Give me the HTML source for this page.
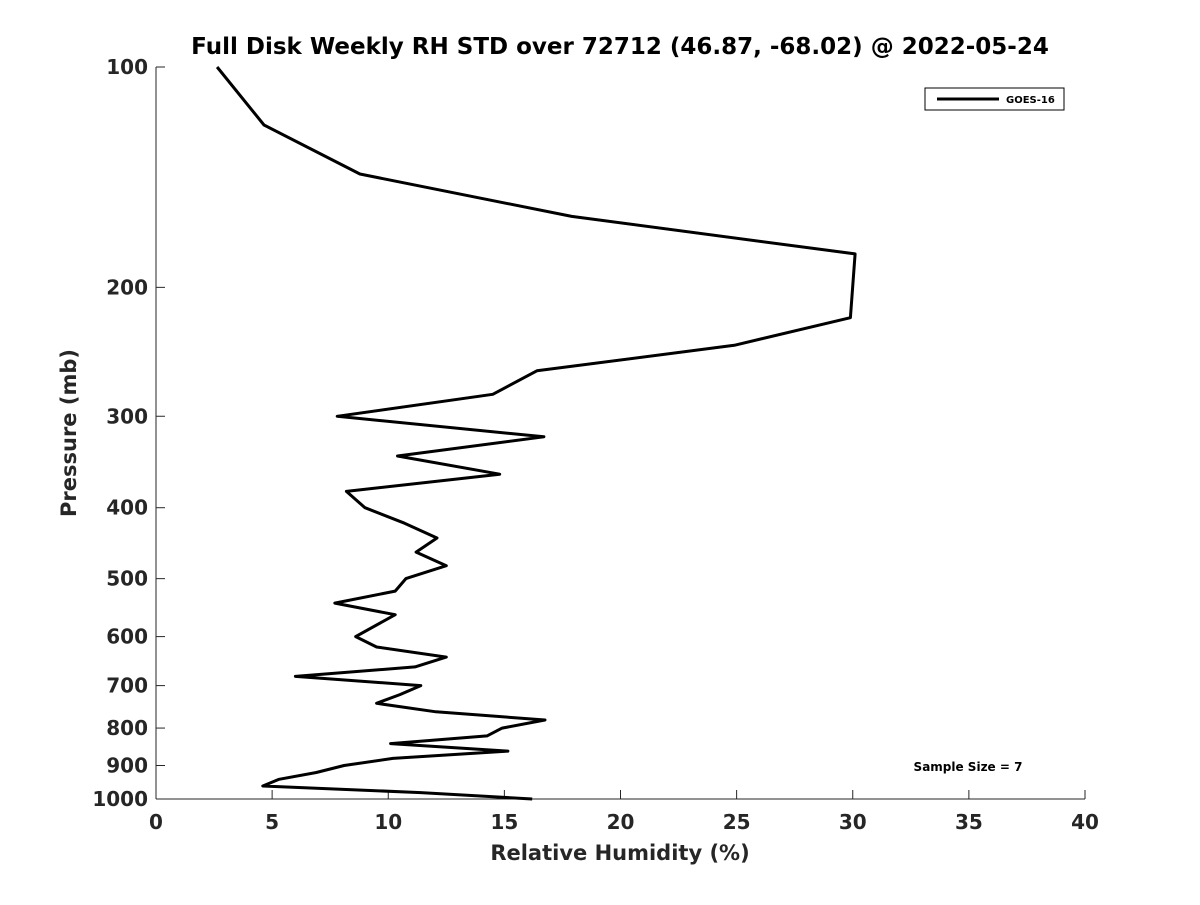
<!DOCTYPE html>
<html><head><meta charset="utf-8"><style>
body{margin:0;background:#fff;}
svg text{font-family:"DejaVu Sans","Liberation Sans",sans-serif;font-weight:bold;fill:#262626;}
</style></head><body>
<svg id="chart" width="1200" height="900" viewBox="0 0 1200 900" xmlns="http://www.w3.org/2000/svg">
<rect width="1200" height="900" fill="#fff"/>
<text x="620" y="54" font-size="23" text-anchor="middle" style="fill:#000">Full Disk Weekly RH STD over 72712 (46.87, -68.02) @ 2022-05-24</text>
<g id="axes"></g>
<path id="series" fill="none" stroke="#000" stroke-width="3" stroke-linejoin="round"/>
<text x="620" y="860" font-size="21" text-anchor="middle">Relative Humidity (%)</text>
<text transform="translate(76,433) rotate(-90)" font-size="21" text-anchor="middle">Pressure (mb)</text>
<g>
<rect x="925" y="88" width="139" height="22" fill="#fff" stroke="#000" stroke-width="1"/>
<line x1="937" y1="99" x2="999" y2="99" stroke="#000" stroke-width="3"/>
<text x="1006" y="103" font-size="10" style="fill:#000">GOES-16</text>
</g>
<text x="968" y="771" font-size="12" text-anchor="middle" style="fill:#000">Sample Size = 7</text>
</svg>
<script>
const pressures=[100,120,140,160,180,220,240,260,280,300,320,340,360,380,400,420,440,460,480,500,520,540,560,600,620,640,660,680,700,720,740,760,780,800,820,840,860,880,900,920,940,960,980,1000];
const rhStd=[2.63,4.65,8.78,17.9,30.1,29.9,24.9,16.4,14.5,7.8,16.7,10.4,14.8,8.2,9.0,10.7,12.1,11.2,12.5,10.76,10.3,7.7,10.3,8.6,9.5,12.5,11.15,6.0,11.4,10.5,9.5,12.05,16.75,14.9,14.25,10.1,15.15,10.2,8.1,6.9,5.3,4.6,11.4,16.2];
const xTicks=[0,5,10,15,20,25,30,35,40];
const yTicks=[100,200,300,400,500,600,700,800,900,1000];
const X0=156,X1=1085,Y0=67,Y1=799;
const xs=v=>X0+(v-0)/(40-0)*(X1-X0);
const ys=p=>Y0+Math.log10(p/100)*(Y1-Y0);
const ns="http://www.w3.org/2000/svg";
const ax=document.getElementById('axes');
function mk(t,a){const e=document.createElementNS(ns,t);for(const k in a)e.setAttribute(k,a[k]);ax.appendChild(e);return e;}
let l=mk('line',{x1:X0,y1:Y0,x2:X0,y2:Y1,stroke:'#262626','stroke-width':1});


l=mk('line',{x1:X0,y1:Y1,x2:X1,y2:Y1,stroke:'#262626','stroke-width':1});


xTicks.forEach(v=>{const x=xs(v);
 const t=mk('line',{x1:x,y1:Y1,x2:x,y2:Y1-9,stroke:'#262626','stroke-width':1});
 
 
 const tx=mk('text',{x:x,y:Y1+30,'font-size':20,'text-anchor':'middle'});tx.textContent=v;
 
 
});
yTicks.forEach(p=>{const y=ys(p);
 const t=mk('line',{x1:X0,y1:y,x2:X0+9,y2:y,stroke:'#262626','stroke-width':1});
 
 
 const tx=mk('text',{x:X0-8,y:y+7,'font-size':20,'text-anchor':'end'});tx.textContent=p;
 
 
});
document.getElementById('series').setAttribute('d',pressures.map((p,i)=>(i?'L':'M')+xs(rhStd[i]).toFixed(1)+','+ys(p).toFixed(1)).join(''));
</script>
</body></html>
